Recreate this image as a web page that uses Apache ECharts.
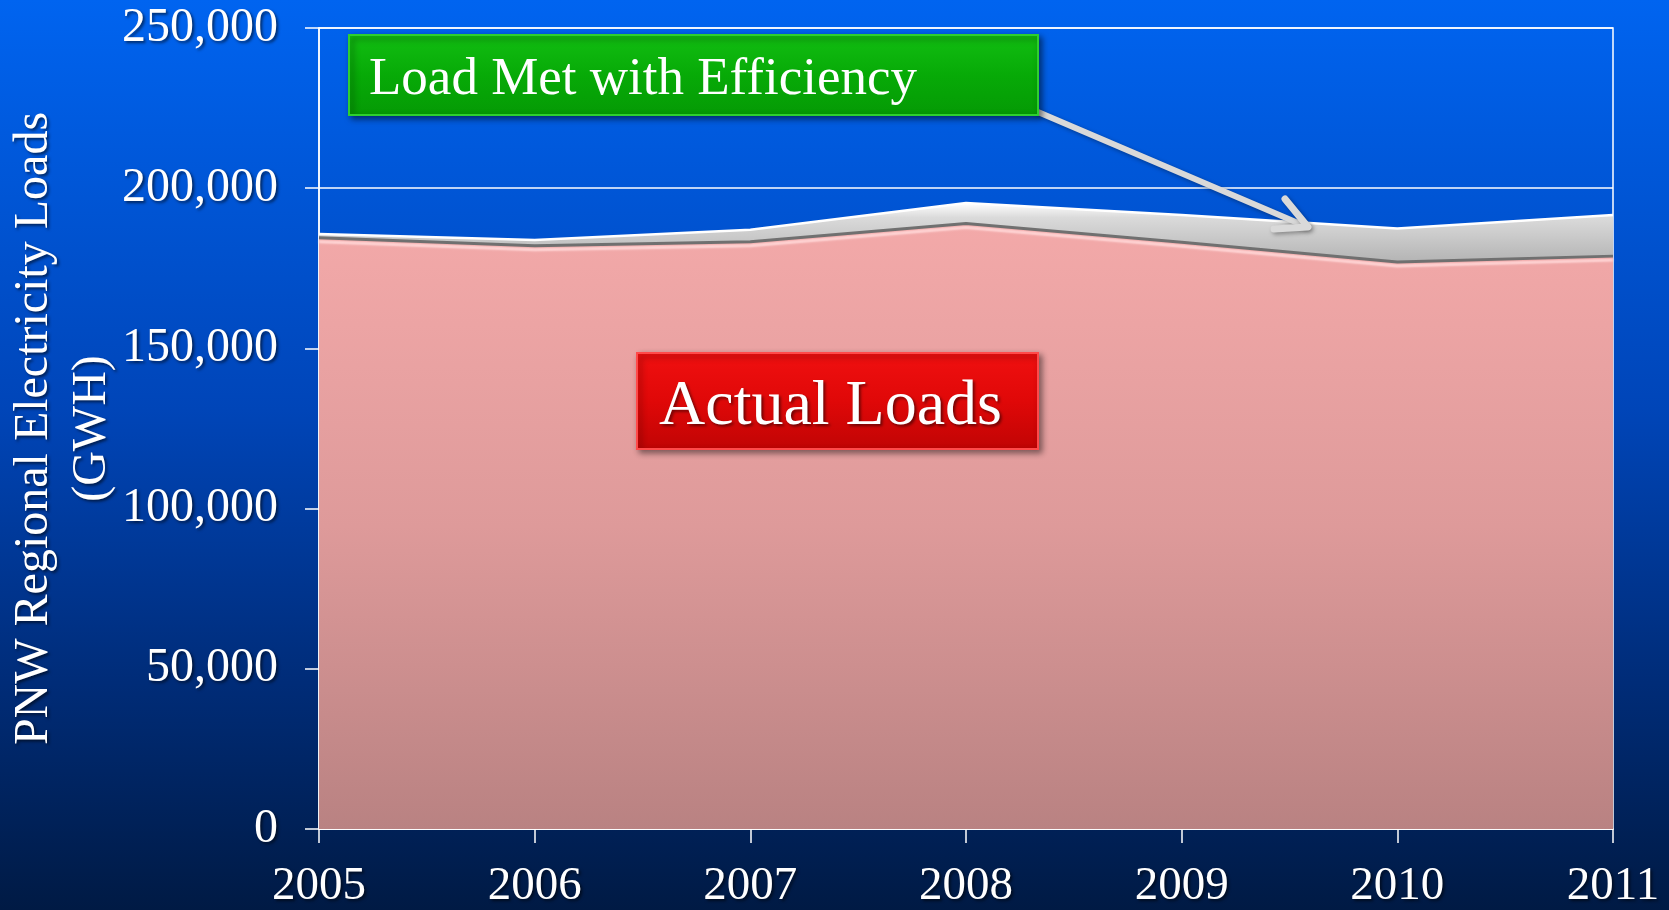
<!DOCTYPE html>
<html>
<head>
<meta charset="utf-8">
<script src="https://cdn.jsdelivr.net/npm/echarts@6/dist/echarts.min.js"></script>
<style>
html,body{margin:0;padding:0;width:1669px;height:910px;overflow:hidden;background:#00256a;}
#chart{width:1669px;height:910px;}
</style>
</head>
<body>
<div id="chart"></div>
<script>
// ---- data ----
const years = ['2005', '2006', '2007', '2008', '2009', '2010', '2011'];
const actualLoads = [184500, 182000, 183300, 189000, 183100, 177000, 178800];
const efficiencyLoads = [1200, 1800, 3700, 6400, 8500, 10400, 12800];
const yTicks = [0, 50000, 100000, 150000, 200000, 250000];
const yAxisTitle = 'PNW Regional Electricity Loads\n(GWH)';
const labelEfficiency = 'Load Met with Efficiency';
const labelActual = 'Actual Loads';

const serif = '"Liberation Serif", "DejaVu Serif", serif';
const shadowText = {textShadowColor: 'rgba(0,0,0,0.55)', textShadowBlur: 3, textShadowOffsetX: 2, textShadowOffsetY: 2};

const chart = echarts.init(document.getElementById('chart'), null, {renderer: 'canvas'});
chart.setOption({
  animation: false,
  backgroundColor: {
    type: 'linear', x: 0, y: 0, x2: 0, y2: 1,
    colorStops: [
      {offset: 0, color: '#0064F0'},
      {offset: 0.45, color: '#0045B8'},
      {offset: 0.75, color: '#002C78'},
      {offset: 1, color: '#001A44'}
    ]
  },
  grid: {
    left: 319, right: 56, top: 28, bottom: 81,
    containLabel: false,
    outerBoundsMode: 'none',
    show: true, borderColor: '#FFFFFF', borderWidth: 1.5,
    backgroundColor: 'rgba(0,0,0,0)'
  },
  xAxis: {
    type: 'category',
    data: years,
    boundaryGap: false,
    axisLine: {show: true, lineStyle: {color: '#FFFFFF', width: 1.5}},
    axisTick: {show: true, length: 14, lineStyle: {color: '#FFFFFF', width: 1.5}},
    axisLabel: Object.assign({color: '#FFFFFF', fontSize: 47, fontFamily: serif, margin: 34}, shadowText),
    splitLine: {show: false}
  },
  yAxis: {
    type: 'value',
    min: yTicks[0],
    max: yTicks[yTicks.length - 1],
    interval: yTicks[1] - yTicks[0],
    name: yAxisTitle,
    nameLocation: 'middle',
    nameRotate: 90,
    nameGap: 198,
    nameMoveOverlap: false,
    nameTextStyle: Object.assign({color: '#FFFFFF', fontSize: 48, lineHeight: 58, fontFamily: serif}, shadowText),
    axisLine: {show: true, lineStyle: {color: '#FFFFFF', width: 1.5}},
    axisTick: {show: true, length: 14, lineStyle: {color: '#FFFFFF', width: 1.5}},
    axisLabel: Object.assign({
      color: '#FFFFFF', fontSize: 48, fontFamily: serif, margin: 41,
      formatter: v => v.toLocaleString('en-US')
    }, shadowText),
    splitLine: {show: true, lineStyle: {color: '#FFFFFF', width: 1.5}}
  },
  series: [
    {
      name: 'Actual Loads',
      type: 'line',
      stack: 'total',
      data: actualLoads,
      symbol: 'none',
      lineStyle: {color: '#707070', width: 3, shadowColor: '#FFD6D6', shadowBlur: 2, shadowOffsetY: 4},
      areaStyle: {
        opacity: 1,
        color: {
          type: 'linear', x: 0, y: 0, x2: 0, y2: 1,
          colorStops: [
            {offset: 0, color: '#F3A9A9'},
            {offset: 0.5, color: '#DE9A9A'},
            {offset: 1, color: '#B98282'}
          ]
        }
      },
      z: 2
    },
    {
      name: 'Load Met with Efficiency',
      type: 'line',
      stack: 'total',
      data: efficiencyLoads,
      symbol: 'none',
      lineStyle: {color: '#FFFFFF', width: 2.5},
      areaStyle: {
        opacity: 1,
        color: {
          type: 'linear', x: 0, y: 0, x2: 0, y2: 1,
          colorStops: [
            {offset: 0, color: '#FFFFFF'},
            {offset: 0.25, color: '#DADADA'},
            {offset: 1, color: '#B4B4B4'}
          ]
        }
      },
      z: 1
    }
  ],
  graphic: [
    {
      type: 'polyline', z: 100,
      shape: {points: [[1038, 112], [1305, 226]]},
      style: {stroke: '#D9D9D9', lineWidth: 6, lineCap: 'round', fill: null,
        shadowColor: 'rgba(0,0,0,0.35)', shadowBlur: 4, shadowOffsetX: 2, shadowOffsetY: 2}
    },
    {
      type: 'polyline', z: 100,
      shape: {points: [[1285, 199], [1308, 227], [1274, 229]]},
      style: {stroke: '#D9D9D9', lineWidth: 7, lineCap: 'round', lineJoin: 'round', fill: null,
        shadowColor: 'rgba(0,0,0,0.35)', shadowBlur: 4, shadowOffsetX: 2, shadowOffsetY: 2}
    },
    {
      type: 'rect', z: 101,
      shape: {x: 349, y: 35, width: 689, height: 80},
      style: {
        fill: {type: 'linear', x: 0, y: 0, x2: 0, y2: 1,
          colorStops: [{offset: 0, color: '#12BE12'}, {offset: 0.5, color: '#07AA07'}, {offset: 1, color: '#059A05'}]},
        stroke: '#2ED02E', lineWidth: 2,
        shadowColor: 'rgba(0,0,0,0.5)', shadowBlur: 6, shadowOffsetX: 3, shadowOffsetY: 3
      }
    },
    {
      type: 'text', z: 102,
      x: 369, y: 80,
      style: {text: labelEfficiency, fill: '#FFFFFF', font: '53px ' + serif, verticalAlign: 'middle', align: 'left'}
    },
    {
      type: 'rect', z: 101,
      shape: {x: 637, y: 353, width: 401, height: 96},
      style: {
        fill: {type: 'linear', x: 0, y: 0, x2: 0, y2: 1,
          colorStops: [{offset: 0, color: '#F01010'}, {offset: 0.5, color: '#E00808'}, {offset: 1, color: '#C00404'}]},
        stroke: '#FF4A4A', lineWidth: 2,
        shadowColor: 'rgba(0,0,0,0.45)', shadowBlur: 6, shadowOffsetX: 3, shadowOffsetY: 3
      }
    },
    {
      type: 'text', z: 102,
      x: 659, y: 407,
      style: {text: labelActual, fill: '#FFFFFF', font: '64px ' + serif, verticalAlign: 'middle', align: 'left',
        textShadowColor: 'rgba(0,0,0,0.5)', textShadowBlur: 3, textShadowOffsetX: 2, textShadowOffsetY: 2}
    }
  ]
});
</script>
</body>
</html>
